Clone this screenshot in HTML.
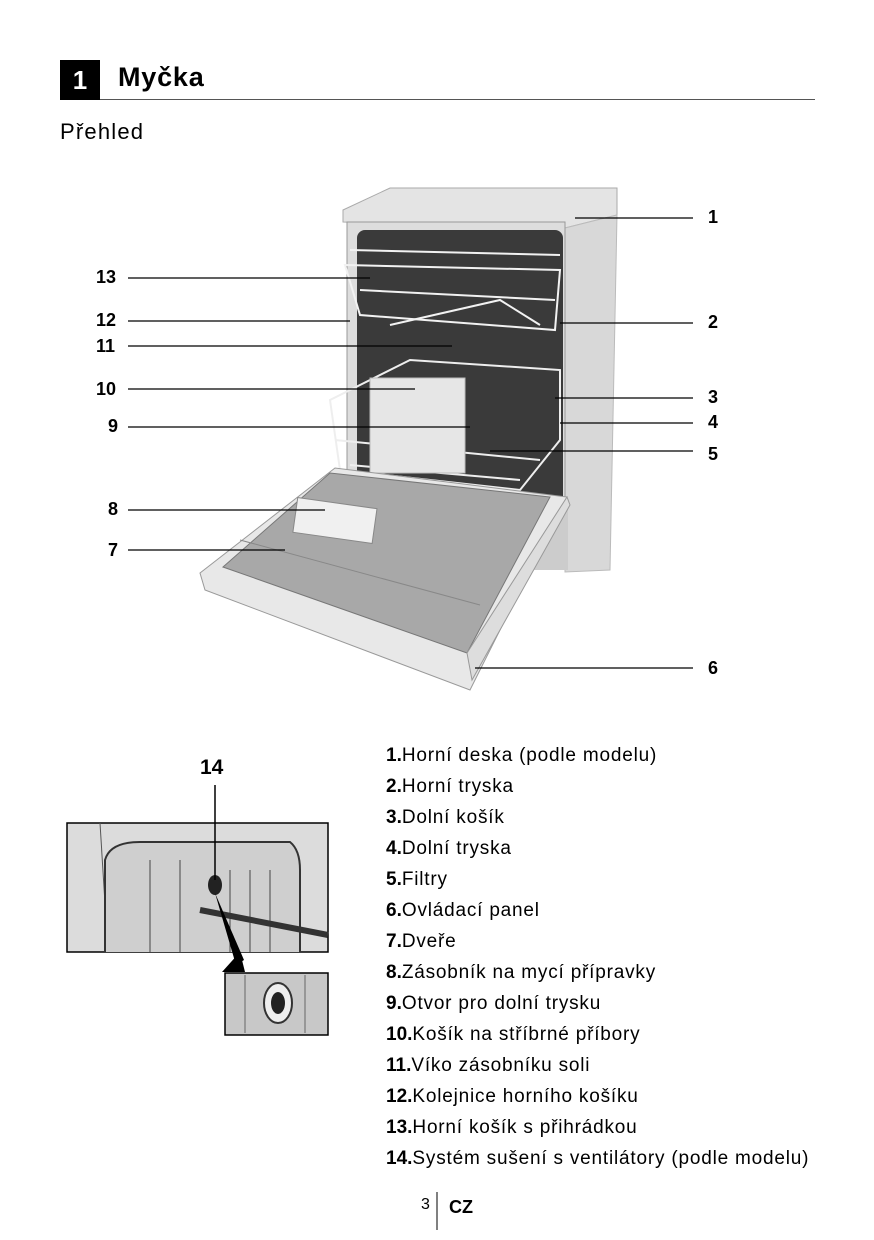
<!DOCTYPE html>
<html><head><meta charset="utf-8"><style>
html,body{margin:0;padding:0;background:#fff;}
body{width:874px;height:1240px;position:relative;font-family:"Liberation Sans",sans-serif;color:#000;overflow:hidden}
.a{position:absolute;white-space:nowrap}
.leg{position:absolute;left:386px;font-size:19px;letter-spacing:0.8px}
.leg b{font-weight:bold;letter-spacing:0}
.n{position:absolute;font-weight:bold;font-size:18px}
</style></head><body>
<div class="a" style="left:60px;top:60px;width:40px;height:40px;background:#000;color:#fff;font-weight:bold;font-size:26px;text-align:center;line-height:40px">1</div>
<div class="a" style="left:118px;top:62px;font-weight:bold;font-size:27px;letter-spacing:0.8px">Myčka</div>
<div class="a" style="left:100px;top:99px;width:715px;height:1px;background:#555"></div>
<div class="a" style="left:60px;top:119px;font-size:22px;letter-spacing:1.2px">Přehled</div>

<svg class="a" style="left:0;top:0" width="874" height="1240">
<polygon points="343,210 390,188 617,188 617,215 565,228 343,222" fill="#e4e4e4" stroke="#aaa"/>
<polygon points="565,228 617,215 610,570 565,572" fill="#d8d8d8" stroke="#bbb"/>
<rect x="347" y="222" width="218" height="300" fill="#ddd" stroke="#999"/>
<rect x="357" y="230" width="206" height="285" rx="8" fill="#3a3a3a"/>
<rect x="530" y="500" width="38" height="70" fill="#ccc"/>
<g stroke="#f2f2f2" stroke-width="2" fill="none">
<path d="M345,265 L560,270 L555,330 L360,315 Z"/>
<path d="M350,250 L560,255"/>
<path d="M360,290 L555,300"/>
<path d="M390,325 L500,300 L540,325"/>
</g>
<g stroke="#eee" stroke-width="2" fill="none">
<path d="M330,400 L410,360 L560,370 L560,440 L520,490 L340,470 Z"/>
<path d="M335,440 L540,460"/>
<path d="M350,465 L520,480"/>
</g>
<rect x="370" y="378" width="95" height="95" fill="#e6e6e6" stroke="#bbb"/>
<polygon points="200,573 335,468 567,497 555,520 470,690 205,590" fill="#e8e8e8" stroke="#999"/>
<polygon points="223,567 330,473 550,497 467,653" fill="#a8a8a8" stroke="#777"/>
<line x1="240" y1="540" x2="480" y2="605" stroke="#888"/>
<rect x="295" y="503" width="80" height="35" fill="#f0f0f0" stroke="#888" transform="rotate(8 335 520)"/>
<polygon points="467,653 567,497 570,505 472,680" fill="#ddd" stroke="#999"/>
<g stroke="#000" stroke-width="1.3">
<line x1="575" y1="218" x2="693" y2="218"/>
<line x1="128" y1="278" x2="370" y2="278"/>
<line x1="128" y1="321" x2="350" y2="321"/>
<line x1="560" y1="323" x2="693" y2="323"/>
<line x1="128" y1="346" x2="452" y2="346"/>
<line x1="128" y1="389" x2="415" y2="389"/>
<line x1="555" y1="398" x2="693" y2="398"/>
<line x1="128" y1="427" x2="470" y2="427"/>
<line x1="560" y1="423" x2="693" y2="423"/>
<line x1="490" y1="451" x2="693" y2="451"/>
<line x1="128" y1="510" x2="325" y2="510"/>
<line x1="128" y1="550" x2="285" y2="550"/>
<line x1="475" y1="668" x2="693" y2="668"/>
</g>
<rect x="67" y="823" width="261" height="129" fill="#dcdcdc" stroke="#000" stroke-width="1.5"/>
<path d="M100,823 L108,952" stroke="#555" fill="none"/>
<path d="M105,952 L105,860 Q110,842 140,842 L290,842 Q300,850 300,870 L300,952" fill="#cfcfcf" stroke="#333" stroke-width="2"/>
<g stroke="#444"><line x1="150" y1="860" x2="150" y2="952"/><line x1="180" y1="860" x2="180" y2="952"/><line x1="230" y1="870" x2="230" y2="952"/><line x1="250" y1="870" x2="250" y2="952"/><line x1="270" y1="870" x2="270" y2="952"/></g>
<line x1="200" y1="910" x2="328" y2="935" stroke="#333" stroke-width="6"/>
<ellipse cx="215" cy="885" rx="7" ry="10" fill="#222"/>
<line x1="215" y1="785" x2="215" y2="880" stroke="#000" stroke-width="1.5"/>
<polygon points="215,893 244,960 236,965" fill="#000"/>
<polygon points="222,972 240,952 245,972" fill="#000"/>
<rect x="225" y="973" width="103" height="62" fill="#c8c8c8" stroke="#000" stroke-width="1.5"/>
<g stroke="#666"><line x1="245" y1="975" x2="245" y2="1033"/><line x1="305" y1="975" x2="305" y2="1033"/></g>
<ellipse cx="278" cy="1003" rx="14" ry="20" fill="#eee" stroke="#333" stroke-width="2"/>
<ellipse cx="278" cy="1003" rx="7" ry="11" fill="#222"/>
<line x1="437" y1="1192" x2="437" y2="1230" stroke="#000"/>
</svg>

<div class="n" style="left:708px;top:207px">1</div>
<div class="n" style="left:96px;top:267px">13</div>
<div class="n" style="left:96px;top:310px">12</div>
<div class="n" style="left:708px;top:312px">2</div>
<div class="n" style="left:96px;top:336px">11</div>
<div class="n" style="left:96px;top:379px">10</div>
<div class="n" style="left:708px;top:387px">3</div>
<div class="n" style="left:108px;top:416px">9</div>
<div class="n" style="left:708px;top:412px">4</div>
<div class="n" style="left:708px;top:444px">5</div>
<div class="n" style="left:108px;top:499px">8</div>
<div class="n" style="left:108px;top:540px">7</div>
<div class="n" style="left:708px;top:658px">6</div>
<div class="n" style="left:200px;top:756px;font-size:21px">14</div>

<div class="leg" style="top:745px"><b>1.</b>Horní deska (podle modelu)</div>
<div class="leg" style="top:776px"><b>2.</b>Horní tryska</div>
<div class="leg" style="top:807px"><b>3.</b>Dolní košík</div>
<div class="leg" style="top:838px"><b>4.</b>Dolní tryska</div>
<div class="leg" style="top:869px"><b>5.</b>Filtry</div>
<div class="leg" style="top:900px"><b>6.</b>Ovládací panel</div>
<div class="leg" style="top:931px"><b>7.</b>Dveře</div>
<div class="leg" style="top:962px"><b>8.</b>Zásobník na mycí přípravky</div>
<div class="leg" style="top:993px"><b>9.</b>Otvor pro dolní trysku</div>
<div class="leg" style="top:1024px"><b>10.</b>Košík na stříbrné příbory</div>
<div class="leg" style="top:1055px"><b>11.</b>Víko zásobníku soli</div>
<div class="leg" style="top:1086px"><b>12.</b>Kolejnice horního košíku</div>
<div class="leg" style="top:1117px"><b>13.</b>Horní košík s přihrádkou</div>
<div class="leg" style="top:1148px"><b>14.</b>Systém sušení s ventilátory (podle modelu)</div>

<div class="a" style="left:421px;top:1196px;font-size:16px">3</div>
<div class="a" style="left:449px;top:1197px;font-size:18px;font-weight:bold">CZ</div>
</body></html>
